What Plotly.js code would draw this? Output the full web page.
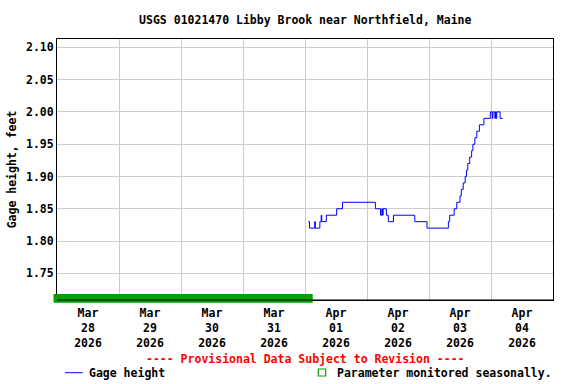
<!DOCTYPE html>
<html>
<head>
<meta charset="utf-8">
<script src="https://cdn.plot.ly/plotly-3.0.1.min.js"></script>
<style>html,body{margin:0;padding:0;background:#fff}#chart{width:576px;height:384px}</style>
</head>
<body>
<div id="chart"></div>
<script>
// Gage height readings (step breakpoints), feet
const gageTimes = [
  "2026-04-01 01:15","2026-04-01 01:45","2026-04-01 03:45","2026-04-01 04:00","2026-04-01 05:45",
  "2026-04-01 06:15","2026-04-01 06:30","2026-04-01 08:15","2026-04-01 12:15","2026-04-01 14:30",
  "2026-04-02 03:15","2026-04-02 05:15","2026-04-02 05:45","2026-04-02 06:00","2026-04-02 06:15",
  "2026-04-02 07:30","2026-04-02 08:15","2026-04-02 10:15","2026-04-02 18:30","2026-04-02 23:15",
  "2026-04-03 07:30","2026-04-03 08:00","2026-04-03 09:45","2026-04-03 10:45","2026-04-03 12:00",
  "2026-04-03 12:30","2026-04-03 13:15","2026-04-03 14:00","2026-04-03 14:30","2026-04-03 15:00",
  "2026-04-03 15:45","2026-04-03 16:30","2026-04-03 17:00","2026-04-03 17:45","2026-04-03 18:30",
  "2026-04-03 19:30","2026-04-03 21:15","2026-04-03 23:45",
  "2026-04-04 00:30","2026-04-04 00:45","2026-04-04 01:30","2026-04-04 01:45","2026-04-04 02:00",
  "2026-04-04 02:15","2026-04-04 03:30","2026-04-04 04:30"
];
const gageValues = [
  1.83,1.82,1.83,1.82,1.83, 1.84,1.83,1.84,1.85,1.86,
  1.85,1.84,1.85,1.84,1.85, 1.84,1.83,1.84,1.83,1.82,
  1.83,1.84,1.85,1.86,1.87, 1.88,1.89,1.90,1.91,1.92,
  1.93,1.94,1.95,1.96,1.97, 1.98,1.99,2.00,
  1.99,2.00,1.99,2.00,1.99, 2.00,1.99,1.99
];
// Period when the parameter is monitored seasonally (no data)
const seasonalStart = "2026-03-28 00:00";
const seasonalEnd = "2026-04-01 03:00";

// Axis ticks
const xTickVals = ["2026-03-28 12:00","2026-03-29 12:00","2026-03-30 12:00","2026-03-31 12:00",
                   "2026-04-01 12:00","2026-04-02 12:00","2026-04-03 12:00","2026-04-04 12:00"];
const xTickText = ["Mar<br>28<br>2026","Mar<br>29<br>2026","Mar<br>30<br>2026","Mar<br>31<br>2026",
                   "Apr<br>01<br>2026","Apr<br>02<br>2026","Apr<br>03<br>2026","Apr<br>04<br>2026"];
const xRange = ["2026-03-28 00:00","2026-04-05 00:00"];
const yRange = [1.7087, 2.1129];
const yTickVals = [1.75,1.80,1.85,1.90,1.95,2.00,2.05,2.10];

const FONT = {family: "DejaVu Sans Mono", size: 11.5, color: "#000", weight: "bold"};
const GRID = "#cccccc";
const GREEN = "#00a000";

const traces = [{
  x: gageTimes, y: gageValues, type: "scatter", mode: "lines",
  line: {color: "#0000ff", width: 1, shape: "hv"},
  hoverinfo: "skip", showlegend: false
}];

const layout = {
  width: 576, height: 384,
  margin: {l: 57, r: 23, t: 39, b: 84},
  paper_bgcolor: "#fff", plot_bgcolor: "#fff",
  font: FONT,
  showlegend: false,
  title: {text: "USGS 01021470 Libby Brook near Northfield, Maine", font: FONT,
          x: 0.53, xanchor: "center", y: 0.947, yanchor: "middle"},
  xaxis: {
    type: "date", range: xRange, fixedrange: true,
    tickmode: "array", tickvals: xTickVals, ticktext: xTickText,
    ticks: "", showgrid: false, tickfont: FONT, ticklabelstandoff: 2,
    minor: {tick0: "2026-03-28", dtick: 86400000, showgrid: true, gridcolor: GRID, gridwidth: 1, ticks: ""},
    showline: true, mirror: true, linecolor: "#000", linewidth: 1, zeroline: false
  },
  yaxis: {
    range: yRange, fixedrange: true,
    tickmode: "array", tickvals: yTickVals, tickformat: ".2f",
    ticks: "", showgrid: true, gridcolor: GRID, gridwidth: 1, tickfont: FONT,
    showline: true, mirror: true, linecolor: "#000", linewidth: 1, zeroline: false,
    title: {text: "Gage height, feet", font: FONT, standoff: 6}
  },
  shapes: [
    // seasonal-monitoring bar along the bottom of the plot
    {type: "rect", xref: "x", yref: "paper", x0: seasonalStart, x1: seasonalEnd,
     y0: -0.0103, y1: 0.023, fillcolor: GREEN, line: {width: 0}, layer: "above"},
    {type: "rect", xref: "paper", yref: "paper", x0: -0.007, x1: 0.001,
     y0: -0.0103, y1: 0.023, fillcolor: GREEN, line: {width: 0}, layer: "above"},
    // plot frame bottom line shown through the bar
    {type: "line", xref: "paper", yref: "paper", x0: 0, x1: 1, y0: 0, y1: 0,
     line: {color: "#000", width: 1}, layer: "above"},
    // legend samples
    {type: "line", xref: "paper", yref: "paper", x0: 0.0161, x1: 0.0518, y0: -0.2785, y1: -0.2785,
     line: {color: "#0000ff", width: 1}},
    {type: "rect", xref: "paper", yref: "paper", x0: 0.5268, x1: 0.5417, y0: -0.2912, y1: -0.2644,
     line: {color: GREEN, width: 1.2}, fillcolor: "rgba(0,0,0,0)"}
  ],
  annotations: [
    {text: "---- Provisional Data Subject to Revision ----", xref: "paper", yref: "paper",
     x: 0.5, y: -0.2257, xanchor: "center", yanchor: "middle", showarrow: false,
     font: {family: "DejaVu Sans Mono", size: 11.5, color: "#ff0000", weight: "bold"}},
    {text: "Gage height", xref: "paper", yref: "paper", x: 0.060, y: -0.2797,
     xanchor: "left", yanchor: "middle", showarrow: false, font: FONT},
    {text: "Parameter monitored seasonally.", xref: "paper", yref: "paper", x: 0.560, y: -0.2797,
     xanchor: "left", yanchor: "middle", showarrow: false, font: FONT}
  ]
};

Plotly.newPlot("chart", traces, layout, {staticPlot: true, displayModeBar: false});
</script>
</body>
</html>
